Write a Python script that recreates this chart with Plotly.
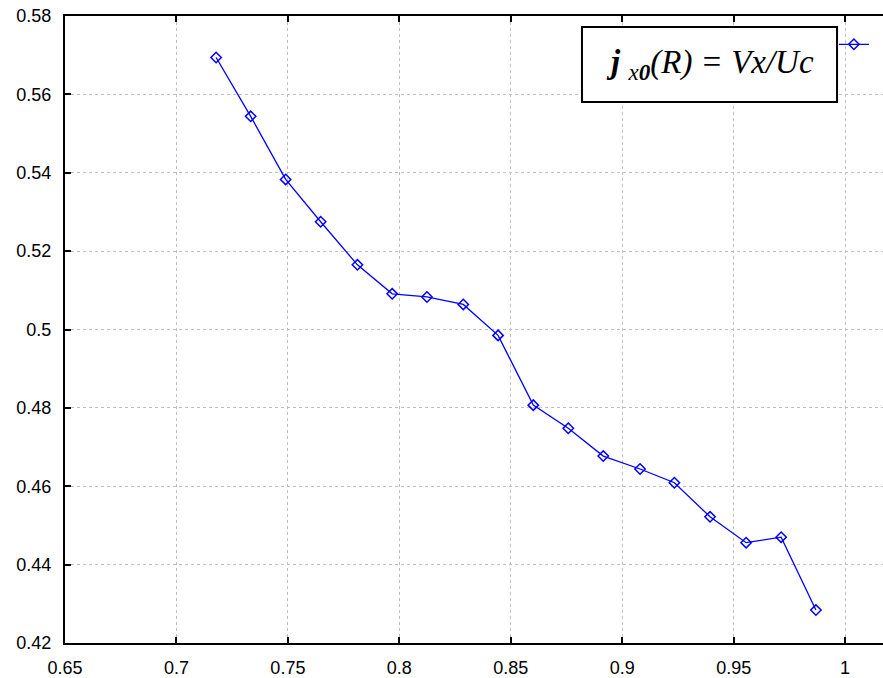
import plotly.graph_objects as go

# Data
r_vals = [0.7178, 0.7333, 0.7490, 0.7647, 0.7812, 0.7968, 0.8124, 0.8287, 0.8443,
          0.8601, 0.8758, 0.8915, 0.9080, 0.9234, 0.9394, 0.9556, 0.9713, 0.9869]
j_vals = [0.5694, 0.5544, 0.5383, 0.5275, 0.5165, 0.5091, 0.5083, 0.5064, 0.4985,
          0.4807, 0.4748, 0.4677, 0.4644, 0.4609, 0.4522, 0.4456, 0.4470, 0.4284]

x_ticks = [0.65, 0.7, 0.75, 0.8, 0.85, 0.9, 0.95, 1.0]
x_tick_text = ["0.65", "0.7", "0.75", "0.8", "0.85", "0.9", "0.95", "1"]
y_ticks = [0.42, 0.44, 0.46, 0.48, 0.50, 0.52, 0.54, 0.56, 0.58]
y_tick_text = ["0.42", "0.44", "0.46", "0.48", "0.5", "0.52", "0.54", "0.56", "0.58"]

legend_label = "<b><i>j</i></b> <sub><i>x</i><b><i>0</i></b></sub><i>(R) = Vx/Uc</i>"

fig = go.Figure()
fig.add_trace(go.Scatter(
    x=r_vals, y=j_vals, mode="lines+markers", name="\u00a0",
    line=dict(color="#0000FF", width=1.3),
    marker=dict(symbol="diamond-open", size=8, color="#0000FF", line=dict(width=1.5)),
    showlegend=True,
))

fig.update_layout(
    width=883, height=678,
    margin=dict(l=65, r=0, t=16, b=35),
    paper_bgcolor="white", plot_bgcolor="white",
    font=dict(family="Liberation Sans, Arial, sans-serif", size=18, color="black"),
    legend=dict(x=0.94, y=0.978, xanchor="left", yanchor="top",
                bgcolor="rgba(0,0,0,0)", borderwidth=0, itemwidth=30,
                font=dict(size=2)),
    xaxis=dict(range=[0.65, 1.017], tickvals=x_ticks, ticktext=x_tick_text,
               showgrid=True, gridcolor="#c0c0c0", griddash="3px,3px", gridwidth=1,
               showline=True, linecolor="black", linewidth=2, mirror="ticks",
               ticks="inside", ticklen=6, tickwidth=1.5, tickcolor="black",
               zeroline=False, ticklabelstandoff=7),
    yaxis=dict(range=[0.42, 0.58], tickvals=y_ticks, ticktext=y_tick_text,
               showgrid=True, gridcolor="#c0c0c0", griddash="3px,3px", gridwidth=1,
               showline=True, linecolor="black", linewidth=2, mirror=False,
               ticks="inside", ticklen=6, tickwidth=1.5, tickcolor="black",
               zeroline=False, ticklabelstandoff=8),
    shapes=[dict(type="rect", xref="paper", yref="paper",
                 x0=0.632, x1=0.9438, y0=0.8628, y1=0.9825,
                 line=dict(color="black", width=2), fillcolor="white", layer="above")],
    annotations=[dict(text=legend_label, xref="paper", yref="paper",
                      x=(0.632 + 0.9438) / 2, y=(0.8628 + 0.9825) / 2,
                      xanchor="center", yanchor="middle", showarrow=False,
                      font=dict(family="Liberation Serif, Times New Roman, serif",
                                size=33, color="black"))],
)

fig.write_html("out.html")
